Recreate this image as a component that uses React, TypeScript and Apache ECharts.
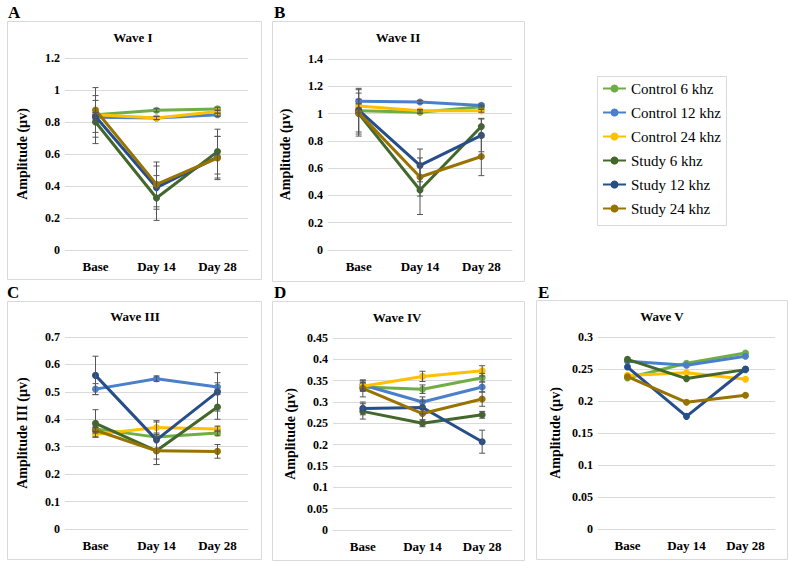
import React, { useEffect, useRef } from "react";
import * as echarts from "echarts";

const categories = ["Base", "Day 14", "Day 28"];
const seriesNames = [
  "Control 6 khz",
  "Control 12 khz",
  "Control 24 khz",
  "Study 6 khz",
  "Study 12 khz",
  "Study 24 khz",
];

// Wave I
const waveIMean = [
  [0.845, 0.873, 0.882],
  [0.83, 0.825, 0.845],
  [0.845, 0.825, 0.865],
  [0.8, 0.325, 0.615],
  [0.835, 0.39, 0.58],
  [0.875, 0.41, 0.575],
];
const waveIErr = [
  [0.015, 0.01, 0.01],
  [0.015, 0.01, 0.01],
  [0.015, 0.01, 0.01],
  [0.135, 0.14, 0.14],
  [0.13, 0.135, 0.13],
  [0.14, 0.14, 0.135],
];

// Wave II
const waveIIMean = [
  [1.02, 1.01, 1.05],
  [1.09, 1.085, 1.06],
  [1.055, 1.02, 1.02],
  [1.0, 0.44, 0.905],
  [1.025, 0.62, 0.84],
  [1.005, 0.535, 0.685],
];
const waveIIErr = [
  [0.015, 0.01, 0.01],
  [0.015, 0.01, 0.01],
  [0.015, 0.01, 0.01],
  [0.15, 0.18, 0.06],
  [0.16, 0.12, 0.12],
  [0.17, 0.14, 0.14],
];

// Wave III
const waveIIIMean = [
  [0.365, 0.335, 0.35],
  [0.51, 0.548, 0.518],
  [0.345, 0.37, 0.365],
  [0.385, 0.285, 0.445],
  [0.56, 0.325, 0.5],
  [0.36, 0.285, 0.283],
];
const waveIIIErr = [
  [0.01, 0.01, 0.01],
  [0.02, 0.01, 0.015],
  [0.01, 0.02, 0.01],
  [0.05, 0.05, 0.045],
  [0.07, 0.07, 0.07],
  [0.01, 0.05, 0.025],
];

// Wave IV
const waveIVMean = [
  [0.335, 0.33, 0.357],
  [0.34, 0.3, 0.335],
  [0.337, 0.36, 0.373],
  [0.278, 0.25, 0.27],
  [0.285, 0.287, 0.207],
  [0.332, 0.273, 0.307],
];
const waveIVErr = [
  [0.01, 0.01, 0.01],
  [0.01, 0.012, 0.012],
  [0.01, 0.012, 0.012],
  [0.018, 0.008, 0.008],
  [0.015, 0.015, 0.027],
  [0.02, 0.015, 0.017],
];

// Wave V (no error bars)
const waveVMean = [
  [0.236, 0.259, 0.275],
  [0.262, 0.256, 0.27],
  [0.24, 0.244, 0.234],
  [0.265, 0.235, 0.249],
  [0.253, 0.176, 0.25],
  [0.238, 0.198, 0.209],
];

const colors = ["#70AD47", "#4A7FCC", "#FFC000", "#43682B", "#264E8A", "#997300"];
const FONT = "Liberation Serif, serif";

const panels = [
  { letter: "A", title: "Wave I", yName: "Amplitude (µv)", mean: waveIMean, err: waveIErr, max: 1.2, interval: 0.2,
    grid: { left: 65, top: 58, width: 183, height: 192 }, box: [7, 21, 254, 258], letterPos: [8, 12], titlePos: [133, 37] },
  { letter: "B", title: "Wave II", yName: "Amplitude (µv)", mean: waveIIMean, err: waveIIErr, max: 1.4, interval: 0.2,
    grid: { left: 328, top: 59, width: 184, height: 191 }, box: [272, 21, 252, 260], letterPos: [274, 12], titlePos: [398, 37] },
  { letter: "C", title: "Wave III", yName: "Amplitude III (µv)", mean: waveIIIMean, err: waveIIIErr, max: 0.7, interval: 0.1,
    grid: { left: 65, top: 337, width: 183, height: 192 }, box: [7, 301, 254, 258], letterPos: [7, 292], titlePos: [135, 316] },
  { letter: "D", title: "Wave IV", yName: "Amplitude (µv)", mean: waveIVMean, err: waveIVErr, max: 0.45, interval: 0.05,
    grid: { left: 333, top: 338, width: 179, height: 192 }, box: [272, 301, 252, 259], letterPos: [274, 292], titlePos: [397, 317] },
  { letter: "E", title: "Wave V", yName: "Amplitude (µv)", mean: waveVMean, err: null, max: 0.3, interval: 0.05,
    grid: { left: 598, top: 337, width: 177, height: 192 }, box: [536, 300, 251, 259], letterPos: [538, 292], titlePos: [662, 316] },
];

export default function App() {
  const ref = useRef<HTMLDivElement>(null);
  useEffect(() => {
    if (!ref.current) return;
    const chart = echarts.init(ref.current, null, { renderer: "svg" });

    const grids: any[] = [];
    const xAxes: any[] = [];
    const yAxes: any[] = [];
    const series: any[] = [];
    const graphics: any[] = [];

    panels.forEach((p, pi) => {
      grids.push({ ...p.grid, containLabel: false });
      xAxes.push({
        type: "category",
        gridIndex: pi,
        data: categories,
        boundaryGap: true,
        axisLine: { show: true, lineStyle: { color: "#d9d9d9", width: 1 } },
        axisTick: { show: false },
        axisLabel: { color: "#000", fontFamily: FONT, fontWeight: "bold", fontSize: 13, margin: 10 },
      });
      yAxes.push({
        type: "value",
        gridIndex: pi,
        min: 0,
        max: p.max,
        interval: p.interval,
        name: p.yName,
        nameLocation: "middle",
        nameGap: 36,
        nameRotate: 90,
        nameTextStyle: { color: "#000", fontFamily: FONT, fontWeight: "bold", fontSize: 14 },
        axisLine: { show: false },
        axisTick: { show: false },
        axisLabel: {
          color: "#000",
          fontFamily: FONT,
          fontWeight: "bold",
          fontSize: 12,
          margin: 5,
          formatter: (v: number) => String(parseFloat(v.toFixed(3))),
        },
        splitLine: { show: true, lineStyle: { color: "#d9d9d9", width: 1 } },
      });
      p.mean.forEach((vals, si) => {
        series.push({
          type: "line",
          name: seriesNames[si],
          xAxisIndex: pi,
          yAxisIndex: pi,
          data: vals,
          symbol: "circle",
          symbolSize: 7,
          lineStyle: { width: 3, color: colors[si] },
          itemStyle: { color: colors[si] },
          z: 2 + si * 0.01,
        });
      });
      if (p.err) {
        p.mean.forEach((vals, si) => {
          const errData = vals.map((v, i) => [i, v - p.err![si][i], v + p.err![si][i]]);
          series.push({
            type: "custom",
            xAxisIndex: pi,
            yAxisIndex: pi,
            data: errData,
            encode: { x: 0, y: [1, 2] },
            z: 5,
            silent: true,
            renderItem: (_params: any, api: any) => {
              const x = api.value(0);
              const lo = api.coord([x, api.value(1)]);
              const hi = api.coord([x, api.value(2)]);
              const w = 3;
              const st = { stroke: "#555", lineWidth: 1 };
              return {
                type: "group",
                children: [
                  { type: "line", shape: { x1: hi[0], y1: hi[1], x2: lo[0], y2: lo[1] }, style: st },
                  { type: "line", shape: { x1: hi[0] - w, y1: hi[1], x2: hi[0] + w, y2: hi[1] }, style: st },
                  { type: "line", shape: { x1: lo[0] - w, y1: lo[1], x2: lo[0] + w, y2: lo[1] }, style: st },
                ],
              };
            },
          });
        });
      }
      graphics.push({
        type: "rect",
        shape: { x: p.box[0] + 0.5, y: p.box[1] + 0.5, width: p.box[2], height: p.box[3] },
        style: { fill: "none", stroke: "#d9d9d9", lineWidth: 1 },
        z: -1,
      });
      graphics.push({
        type: "text",
        x: p.letterPos[0],
        y: p.letterPos[1],
        style: {
          text: p.letter,
          fill: "#000",
          fontFamily: FONT,
          fontWeight: "bold",
          fontSize: 17,
          textVerticalAlign: "middle",
        },
      });
      graphics.push({
        type: "text",
        x: p.titlePos[0],
        y: p.titlePos[1],
        style: {
          text: p.title,
          fill: "#000",
          fontFamily: FONT,
          fontWeight: "bold",
          fontSize: 13,
          textAlign: "center",
          textVerticalAlign: "middle",
        },
      });
    });

    graphics.push({
      type: "rect",
      shape: { x: 597.5, y: 76.5, width: 129, height: 149 },
      style: { fill: "none", stroke: "#d9d9d9", lineWidth: 1 },
      z: -1,
    });

    chart.setOption({
      animation: false,
      backgroundColor: "#fff",
      grid: grids,
      xAxis: xAxes,
      yAxis: yAxes,
      series,
      graphic: graphics,
      legend: {
        data: seriesNames,
        orient: "vertical",
        left: 602,
        top: 81,
        itemWidth: 23,
        itemHeight: 10,
        itemGap: 9,
        padding: 0,
        textStyle: { color: "#000", fontFamily: FONT, fontSize: 15, lineHeight: 15 },
        selectedMode: false,
      },
    });
    return () => chart.dispose();
  }, []);
  return (
    <div
      ref={ref}
      style={{ position: "absolute", left: 0, top: 0, width: 789, height: 562, background: "#fff" }}
    />
  );
}
